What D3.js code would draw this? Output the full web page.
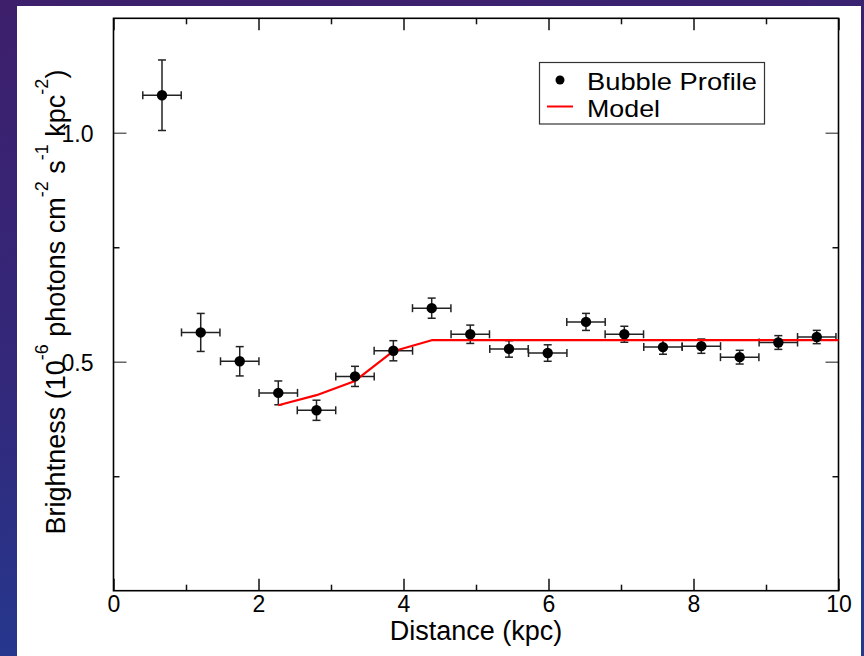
<!DOCTYPE html>
<html>
<head>
<meta charset="utf-8">
<script src="https://cdn.jsdelivr.net/npm/d3@7"></script>
<style>
  html, body { margin: 0; padding: 0; }
  body { width: 864px; height: 656px; overflow: hidden; }
  text { font-family: "Liberation Sans", Arial, Helvetica, sans-serif; fill: #000; }
</style>
</head>
<body>
<svg id="chart" width="864" height="656"></svg>
<script>
// ---- data ----
const distance   = [0.669, 1.203, 1.741, 2.273, 2.80, 3.331, 3.86, 4.389, 4.921, 5.455, 5.989, 6.517, 7.046, 7.579, 8.108, 8.637, 9.17, 9.70];
const brightness = [1.082, 0.564, 0.501, 0.432, 0.394, 0.468, 0.524, 0.617, 0.560, 0.528, 0.519, 0.587, 0.560, 0.532, 0.534, 0.510, 0.542, 0.554];
const brightErr  = [0.077, 0.0415, 0.032, 0.026, 0.022, 0.022, 0.022, 0.022, 0.020, 0.018, 0.018, 0.0186, 0.0175, 0.0156, 0.0156, 0.015, 0.015, 0.0145];
const distErr    = [0.265, 0.265, 0.265, 0.265, 0.265, 0.265, 0.265, 0.265, 0.265, 0.265, 0.265, 0.265, 0.265, 0.265, 0.265, 0.265, 0.265, 0.265];
const modelX     = [2.273, 2.80, 3.331, 3.86, 4.389, 10];
const modelY     = [0.405, 0.427, 0.458, 0.523, 0.547, 0.547];
const xMajorTicks = [0, 2, 4, 6, 8, 10];
const xMinorTicks = [1, 3, 5, 7, 9];
const yMajorTicks = [0.5, 1.0];
const yMinorTicks = [0.25, 0.75];
const legendLabels = ["Bubble Profile", "Model"];

const svg = d3.select("#chart");

// background
const defs = svg.append("defs");
const grad = defs.append("linearGradient").attr("id", "bg").attr("x1", 0).attr("y1", 0).attr("x2", 0.2).attr("y2", 1);
grad.append("stop").attr("offset", "0%").attr("stop-color", "#3d1f6b");
grad.append("stop").attr("offset", "55%").attr("stop-color", "#33287a");
grad.append("stop").attr("offset", "100%").attr("stop-color", "#24388e");
svg.append("rect").attr("width", 864).attr("height", 656).attr("fill", "url(#bg)");
svg.append("rect").attr("x", 17).attr("y", 6).attr("width", 844).attr("height", 650).attr("fill", "#fff");

const L = 113.5, R = 838.5, T = 18.3, B = 590.7;
const x = d3.scaleLinear().domain([0, 10]).range([L, R]);
const y = d3.scaleLinear().domain([0, 1.25]).range([B, T]);

// axes: major ticks + labels
const fs = "23px";
const gxB = svg.append("g").attr("transform", `translate(0,${B})`)
  .call(d3.axisBottom(x).tickValues(xMajorTicks).tickSize(-12).tickPadding(21).tickFormat(d3.format("d")));
const gxT = svg.append("g").attr("transform", `translate(0,${T})`)
  .call(d3.axisTop(x).tickValues(xMajorTicks).tickSize(-12).tickFormat(""));
const gxBm = svg.append("g").attr("transform", `translate(0,${B})`)
  .call(d3.axisBottom(x).tickValues(xMinorTicks).tickSize(-6).tickFormat(""));
const gxTm = svg.append("g").attr("transform", `translate(0,${T})`)
  .call(d3.axisTop(x).tickValues(xMinorTicks).tickSize(-6).tickFormat(""));
const gyL = svg.append("g").attr("transform", `translate(${L},0)`)
  .call(d3.axisLeft(y).tickValues(yMajorTicks).tickSize(-13).tickPadding(20).tickFormat(d3.format(".1f")));
const gyR = svg.append("g").attr("transform", `translate(${R},0)`)
  .call(d3.axisRight(y).tickValues(yMajorTicks).tickSize(-13).tickFormat(""));
const gyLm = svg.append("g").attr("transform", `translate(${L},0)`)
  .call(d3.axisLeft(y).tickValues(yMinorTicks).tickSize(-6).tickFormat(""));
const gyRm = svg.append("g").attr("transform", `translate(${R},0)`)
  .call(d3.axisRight(y).tickValues(yMinorTicks).tickSize(-6).tickFormat(""));

[gxB, gxT, gxBm, gxTm, gyL, gyR, gyLm, gyRm].forEach(g => {
  g.select(".domain").remove();
  g.selectAll("line").attr("stroke", "#111").attr("stroke-width", 1.5);
  g.selectAll("text").style("font-size", fs).style("font-family", '"Liberation Sans", Arial, sans-serif').attr("fill", "#000");
});
[gyL, gyR].forEach(g => g.selectAll("line").attr("stroke", "#666"));
gyL.selectAll("text").attr("dy", "0.36em");
gxB.selectAll("text").attr("dy", "0");

// frame
svg.append("rect").attr("x", L).attr("y", T).attr("width", R - L).attr("height", B - T)
  .attr("fill", "none").attr("stroke", "#000").attr("stroke-width", 1.6);

// data
const pts = distance.map((d, i) => ({x: d, y: brightness[i], ey: brightErr[i], ex: distErr[i]}));
const eb = svg.append("g").attr("stroke", "#222").attr("stroke-width", 1.5).attr("fill", "none");
const cap = 4;
pts.forEach(p => {
  const cx = x(p.x), cy = y(p.y);
  const y1 = y(p.y + p.ey), y2 = y(p.y - p.ey);
  const x1 = x(p.x - p.ex), x2 = x(p.x + p.ex);
  eb.append("line").attr("x1", cx).attr("x2", cx).attr("y1", y1).attr("y2", y2);
  eb.append("line").attr("x1", cx - cap).attr("x2", cx + cap).attr("y1", y1).attr("y2", y1);
  eb.append("line").attr("x1", cx - cap).attr("x2", cx + cap).attr("y1", y2).attr("y2", y2);
  eb.append("line").attr("x1", x1).attr("x2", x2).attr("y1", cy).attr("y2", cy);
  eb.append("line").attr("x1", x1).attr("x2", x1).attr("y1", cy - cap).attr("y2", cy + cap);
  eb.append("line").attr("x1", x2).attr("x2", x2).attr("y1", cy - cap).attr("y2", cy + cap);
});

// model
const line = d3.line().x(d => x(d[0])).y(d => y(d[1]));
svg.append("path").datum(modelX.map((d, i) => [d, modelY[i]]))
  .attr("d", line).attr("fill", "none").attr("stroke", "#ff0000").attr("stroke-width", 2.2)
  .attr("stroke-linejoin", "round");

svg.append("g").selectAll("circle").data(pts).join("circle")
  .attr("cx", d => x(d.x)).attr("cy", d => y(d.y)).attr("r", 5.2).attr("fill", "#000");

// legend
const lg = svg.append("g");
lg.append("rect").attr("x", 539.5).attr("y", 62.5).attr("width", 225).attr("height", 61.5)
  .attr("fill", "#fff").attr("stroke", "#333").attr("stroke-width", 1.2);
lg.append("circle").attr("cx", 560).attr("cy", 80).attr("r", 4.5).attr("fill", "#000");
lg.append("line").attr("x1", 547).attr("x2", 573).attr("y1", 106.5).attr("y2", 106.5)
  .attr("stroke", "#ff0000").attr("stroke-width", 2);
lg.append("text").attr("x", 587).attr("y", 89.5).style("font-size", "24.5px")
  .attr("textLength", 170).attr("lengthAdjust", "spacingAndGlyphs").text(legendLabels[0]);
lg.append("text").attr("x", 587).attr("y", 116.5).style("font-size", "24.5px")
  .attr("textLength", 73).attr("lengthAdjust", "spacingAndGlyphs").text(legendLabels[1]);

// axis labels
svg.append("text").attr("x", (L + R) / 2).attr("y", 640).attr("text-anchor", "middle")
  .style("font-size", "27px").text("Distance (kpc)");

const yl = svg.append("text").attr("transform", "translate(65,302) rotate(-90)")
  .attr("text-anchor", "middle").style("font-size", "27px");
const parts = [["Brightness (10", false], ["-6", true], [" photons cm", false], ["-2", true],
               [" s", false], ["-1", true], [" kpc", false], ["-2", true], [")", false]];
let prevSup = false;
parts.forEach(([t, sup]) => {
  const ts = yl.append("tspan").text(t);
  if (sup) ts.style("font-size", "18px").attr("dy", "-17px");
  else if (prevSup) ts.attr("dy", "17px");
  prevSup = sup;
});
</script>
</body>
</html>
